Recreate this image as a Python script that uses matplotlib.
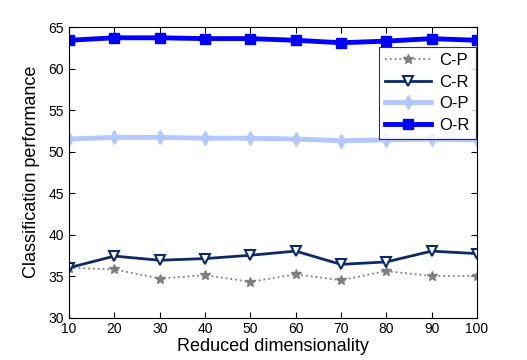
import numpy as np
import matplotlib.pyplot as plt

plt.rcParams['font.family'] = ['Liberation Sans', 'DejaVu Sans']

# Data
dims = [10, 20, 30, 40, 50, 60, 70, 80, 90, 100]
c_p = [36.0, 35.8, 34.7, 35.1, 34.3, 35.2, 34.5, 35.6, 35.0, 35.0]
c_r = [36.0, 37.4, 36.9, 37.1, 37.5, 38.0, 36.4, 36.7, 38.0, 37.7]
o_p = [51.5, 51.7, 51.7, 51.6, 51.6, 51.5, 51.3, 51.4, 51.5, 51.4]
o_r = [63.4, 63.7, 63.7, 63.6, 63.6, 63.4, 63.1, 63.3, 63.6, 63.4]

fig = plt.figure(figsize=(5.27, 3.6), dpi=100)
ax = fig.add_axes([0.131, 0.118, 0.774, 0.807])

ax.plot(dims, c_p, ':', color='#808080', lw=1.3, marker='*', ms=7,
        mfc='#808080', mec='#808080', label='C-P')
ax.plot(dims, c_r, '-', color='#0c2a6a', lw=2, marker='v', ms=7.5,
        mfc='white', mec='#0c2a6a', mew=1.5, label='C-R')
ax.plot(dims, o_p, '-', color='#b3c8ff', lw=3.5, marker='d', ms=7.5,
        mfc='#b3c8ff', mec='#b3c8ff', label='O-P')
ax.plot(dims, o_r, '-', color='#0000ff', lw=3.5, marker='s', ms=7.5,
        mfc='#0000ff', mec='#0000ff', label='O-R')

ax.set_xlim(10, 100)
ax.set_ylim(30, 65)
ax.set_xticks(dims)
ax.set_yticks(np.arange(30, 66, 5))
ax.tick_params(direction='in', length=4, labelsize=10, top=True, right=True)
for s in ax.spines.values():
    s.set_linewidth(0.8)

ax.set_xlabel('Reduced dimensionality', fontsize=13, labelpad=1)
ax.set_ylabel('Classification performance', fontsize=13, labelpad=6)

leg = ax.legend(loc='upper right', bbox_to_anchor=(0.997, 0.931), borderaxespad=0,
                fontsize=12, frameon=True, fancybox=False, edgecolor='black',
                handlelength=2.8, handletextpad=0.5, borderpad=0.35,
                labelspacing=0.4)
leg.get_frame().set_linewidth(0.8)

fig.savefig('out.png', dpi=100)
